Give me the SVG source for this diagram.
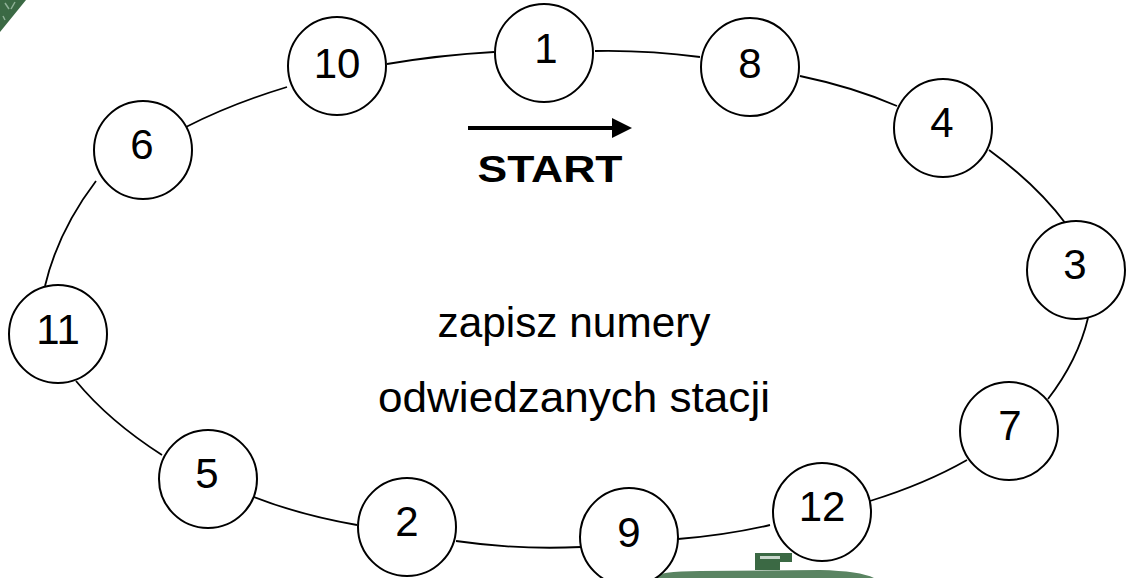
<svg xmlns="http://www.w3.org/2000/svg" width="1129" height="578" viewBox="0 0 1129 578">
  <style>
    .station circle { fill: #ffffff; stroke: #000000; stroke-width: 2; }
    .station text { font-family: "Comic Sans MS", "Liberation Sans", sans-serif; font-size: 42px; fill: #000000; text-anchor: middle; }
    .link { fill: none; stroke: #000000; stroke-width: 1.8; }
    .label { font-family: "Comic Sans MS", "Liberation Sans", sans-serif; fill: #000000; text-anchor: middle; }
    .deco { fill: #3b6944; }
    .deco-soft { fill: #5a8462; }
    .deco-light { fill: none; stroke: #8fb096; stroke-width: 1.5; }
  </style>
  <defs>
    <marker id="head" markerWidth="5" markerHeight="5" refX="0" refY="2.5" orient="auto" markerUnits="strokeWidth">
      <path d="M0,0 L5,2.5 L0,5 Z" fill="#000000"/>
    </marker>
  </defs>

  <rect width="1129" height="578" fill="#ffffff"/>

  <!-- green ornament fragments at the edges -->
  <g id="ornaments">
    <polygon class="deco" points="0,0 26,0 0,32"/>
    <path class="deco-light" d="M5,3 L9,9 M15,2 L11,9 M3,16 L5,20"/>
    <polygon class="deco" points="755,553 792,553 792,562 780,562 780,570 755,570"/>
    <rect x="760" y="556" width="20" height="3" fill="#c9d8cc"/>
    <path class="deco-soft" d="M652,578 Q658,571 700,571 L820,570 Q860,571 874,578 Z"/>
  </g>

  <!-- track between the stations -->
  <g id="connectors">
    <path class="link" d="M387,64 Q440,55 494,52"/>
    <path class="link" d="M595,51 Q647,50 700,57"/>
    <path class="link" d="M800,76 Q853,87 897,106"/>
    <path class="link" d="M989,150 Q1037,185 1066,224"/>
    <path class="link" d="M1088,318 Q1078,360 1048,399"/>
    <path class="link" d="M967,460 Q925,484 870,501"/>
    <path class="link" d="M770,525 Q727,535 678,539"/>
    <path class="link" d="M581,547 Q518,550 456,541"/>
    <path class="link" d="M357,525 Q300,515 254,497"/>
    <path class="link" d="M162,455 Q109,421 76,381"/>
    <path class="link" d="M45,286 Q58,231 96,181"/>
    <path class="link" d="M186,127 Q231,104 287,87"/>
  </g>

  <g id="station-1" class="station"><circle cx="544" cy="53" r="49"/><text x="546" y="63">1</text></g>
  <g id="station-8" class="station"><circle cx="750" cy="67" r="49"/><text x="750" y="78">8</text></g>
  <g id="station-4" class="station"><circle cx="943" cy="128" r="49"/><text x="942" y="137">4</text></g>
  <g id="station-3" class="station"><circle cx="1076" cy="270" r="49"/><text x="1075" y="279">3</text></g>
  <g id="station-7" class="station"><circle cx="1009" cy="431" r="49"/><text x="1010" y="440">7</text></g>
  <g id="station-12" class="station"><circle cx="822" cy="512" r="49"/><text x="822" y="521">12</text></g>
  <g id="station-9" class="station"><circle cx="629" cy="537" r="49"/><text x="629" y="547">9</text></g>
  <g id="station-2" class="station"><circle cx="407" cy="527" r="49"/><text x="407" y="536">2</text></g>
  <g id="station-5" class="station"><circle cx="208" cy="479" r="49"/><text x="207" y="488">5</text></g>
  <g id="station-11" class="station"><circle cx="58" cy="334" r="49"/><text x="58" y="344">11</text></g>
  <g id="station-6" class="station"><circle cx="143" cy="150" r="49"/><text x="142" y="159">6</text></g>
  <g id="station-10" class="station"><circle cx="337" cy="66" r="49"/><text x="337" y="78">10</text></g>

  <!-- start direction -->
  <g id="start">
    <line x1="468" y1="128" x2="612" y2="128" stroke="#000000" stroke-width="4" marker-end="url(#head)"/>
    <text class="label" x="550" y="182" font-size="37" font-weight="bold" textLength="145" lengthAdjust="spacingAndGlyphs">START</text>
  </g>

  <!-- instruction -->
  <g id="instruction">
    <text class="label" x="574" y="337" font-size="42" textLength="273" lengthAdjust="spacingAndGlyphs">zapisz numery</text>
    <text class="label" x="574" y="412" font-size="42" textLength="392" lengthAdjust="spacingAndGlyphs">odwiedzanych stacji</text>
  </g>
</svg>
